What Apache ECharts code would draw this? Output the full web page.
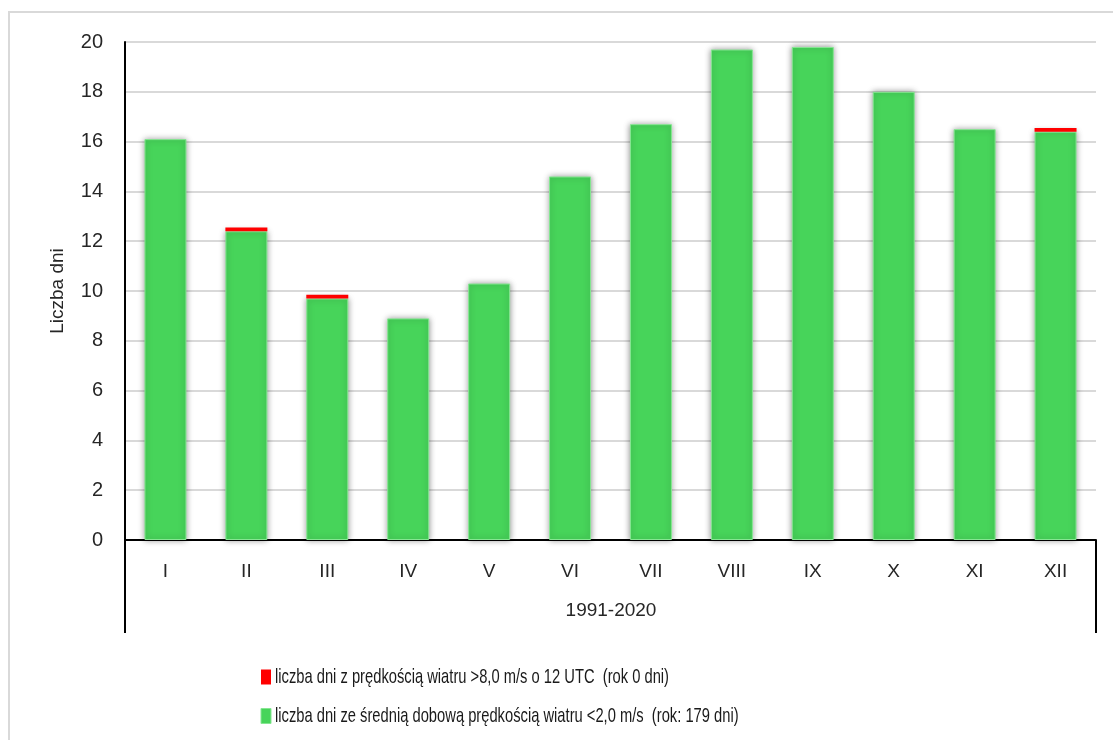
<!DOCTYPE html>
<html>
<head>
<meta charset="utf-8">
<script src="https://cdn.jsdelivr.net/npm/echarts@6/dist/echarts.min.js"></script>
<style>
html,body{margin:0;padding:0;background:#fff;}
#chart{width:1113px;height:740px;}
</style>
</head>
<body>
<div id="chart"></div>
<script>
const categories = ['I','II','III','IV','V','VI','VII','VIII','IX','X','XI','XII'];
const calmDays = [16.1, 12.4, 9.7, 8.9, 10.3, 14.6, 16.7, 19.7, 19.8, 18.0, 16.5, 16.4];
const strongWindDays = [0, 0.15, 0.15, 0, 0, 0, 0, 0, 0, 0, 0, 0.15];
const yTicks = {min: 0, max: 20, interval: 2};
const periodLabel = '1991-2020';
const nameStrong = 'liczba dni z prędkością wiatru >8,0 m/s o 12 UTC  (rok 0 dni)';
const nameCalm = 'liczba dni ze średnią dobową prędkością wiatru <2,0 m/s  (rok: 179 dni)';

const colorCalm = '#47d45a';
const colorStrong = '#ff0000';

const chart = echarts.init(document.getElementById('chart'));
const axisFont = 'Liberation Sans, Arial, sans-serif';
const legendFontSize = 21;

// horizontal compression to imitate the narrow legend font
const ctx = document.createElement('canvas').getContext('2d');
ctx.font = legendFontSize + 'px "Liberation Sans"';
const legendScale = 394 / ctx.measureText(nameStrong).width;

function legendItem(y, color, border, text) {
  return {
    type: 'group', x: 261, y: y,
    children: [
      {type: 'rect', shape: {x: 0, y: -7.5, width: 10, height: 15},
        style: {fill: color, stroke: border, lineWidth: border ? 1 : 0}},
      {type: 'text', x: 14, y: 0, scaleX: legendScale,
        style: {text: text, fontFamily: axisFont, fontSize: legendFontSize,
          fill: '#1a1a1a', verticalAlign: 'middle', align: 'left'}}
    ]
  };
}

chart.setOption({
  animation: false,
  backgroundColor: '#fff',
  grid: {left: 125, right: 17, top: 42, bottom: 200},
  legend: {show: false, data: [nameStrong, nameCalm]},
  xAxis: {
    type: 'category',
    data: categories,
    axisLine: {show: true, lineStyle: {color: '#000', width: 2}},
    axisTick: {show: false},
    axisLabel: {fontFamily: axisFont, fontSize: 19, color: '#262626', margin: 22}
  },
  yAxis: {
    type: 'value',
    min: yTicks.min, max: yTicks.max, interval: yTicks.interval,
    name: 'Liczba dni',
    nameLocation: 'middle',
    nameGap: 58,
    nameTextStyle: {fontFamily: axisFont, fontSize: 19, color: '#262626'},
    axisLine: {show: true, lineStyle: {color: '#000', width: 2}},
    axisTick: {show: false},
    axisLabel: {fontFamily: axisFont, fontSize: 20, color: '#262626', margin: 22},
    splitLine: {lineStyle: {color: '#d9d9d9', width: 2}}
  },
  series: [
    {
      name: nameCalm,
      type: 'bar',
      stack: 'a',
      barWidth: 42,
      data: calmDays,
      itemStyle: {color: colorCalm, borderColor: '#86e692', borderWidth: 1,
        shadowBlur: 6, shadowColor: 'rgba(0,0,0,0.4)'}
    },
    {
      name: nameStrong,
      type: 'bar',
      stack: 'a',
      barWidth: 42,
      data: strongWindDays,
      itemStyle: {color: colorStrong}
    }
  ],
  graphic: [
    {type: 'rect', shape: {x: 9, y: 12, width: 1200, height: 800},
      style: {fill: null, stroke: '#d9d9d9', lineWidth: 2}, silent: true},
    {type: 'line', shape: {x1: 125, y1: 540, x2: 125, y2: 633},
      style: {stroke: '#000', lineWidth: 2}},
    {type: 'line', shape: {x1: 1096, y1: 540, x2: 1096, y2: 633},
      style: {stroke: '#000', lineWidth: 2}},
    {type: 'text', x: 611, y: 611,
      style: {text: periodLabel, fontFamily: axisFont, fontSize: 19, fill: '#262626',
        align: 'center', verticalAlign: 'middle'}},
    legendItem(677, colorStrong, null, nameStrong),
    legendItem(716, colorCalm, '#86e692', nameCalm)
  ]
});
</script>
</body>
</html>
